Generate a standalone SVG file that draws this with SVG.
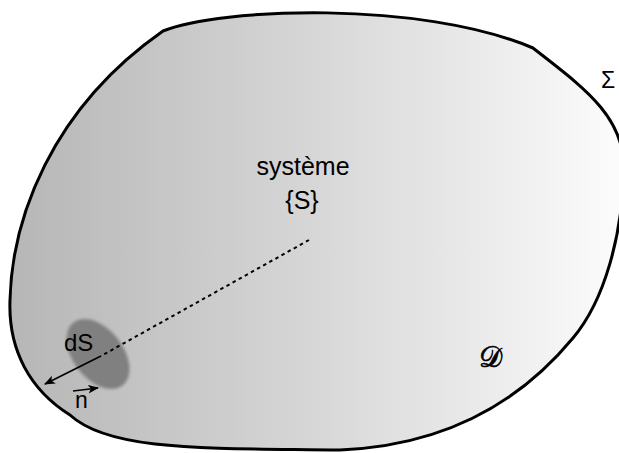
<svg xmlns="http://www.w3.org/2000/svg" width="619" height="453" viewBox="0 0 619 453">
<style>
.lbl{font-family:"Liberation Sans",Arial,sans-serif;fill:#000}
.edge{stroke:#000;fill:none}
</style>
<defs>
<linearGradient id="g" x1="0" y1="0" x2="1" y2="0">
<stop offset="0" stop-color="#b6b6b6"/>
<stop offset="0.5" stop-color="#d7d7d7"/>
<stop offset="1" stop-color="#fcfcfc"/>
</linearGradient>
<filter id="blur" x="-20%" y="-20%" width="140%" height="140%"><feGaussianBlur stdDeviation="1.4"/></filter>
<marker id="ah" viewBox="0 0 10 10" refX="9" refY="5" markerWidth="11" markerHeight="11" markerUnits="userSpaceOnUse" orient="auto">
<path d="M0,1 L10,5 L0,9 L2.5,5 z" fill="#000"/>
</marker>
</defs>
<g id="domain">
<path d="M163,31 C220,8 420,0 533,48 C580,85 625,115 624,170 C622,235 605,300 573,338 C530,390 460,445 340,450 C210,448 110,452 70,415 C30,390 8,350 10,300 C12,220 50,110 163,31 Z" fill="url(#g)" stroke="#000" stroke-width="3" stroke-linejoin="miter"/>
</g>
<g id="dS">
<ellipse cx="98" cy="354" rx="40" ry="25" transform="rotate(52 98 354)" fill="#808080" filter="url(#blur)"/>
</g>
<g id="connectors">
<line class="edge" x1="309" y1="240" x2="101" y2="356" stroke-width="2" stroke-dasharray="3.5,3.5"/>
<line class="edge" x1="101" y1="356" x2="45" y2="384" stroke-width="1.6" marker-end="url(#ah)"/>
<line class="edge" x1="73" y1="391" x2="98" y2="388" stroke-width="1.6" marker-end="url(#ah)"/>
</g>
<g id="labels">
<text class="lbl" x="303" y="175" font-size="25" text-anchor="middle">système</text>
<text class="lbl" x="302" y="209" font-size="25" text-anchor="middle">{S}</text>
<text class="lbl" x="64" y="351" font-size="24">dS</text>
<text class="lbl" x="75" y="408" font-size="23">n</text>
<text class="lbl" x="601" y="88" font-size="23">Σ</text>
<text x="479" y="367" font-size="29" font-family="'DejaVu Sans','Noto Sans',serif" stroke="#000" stroke-width="0.7">𝒟</text>
</g>
</svg>
